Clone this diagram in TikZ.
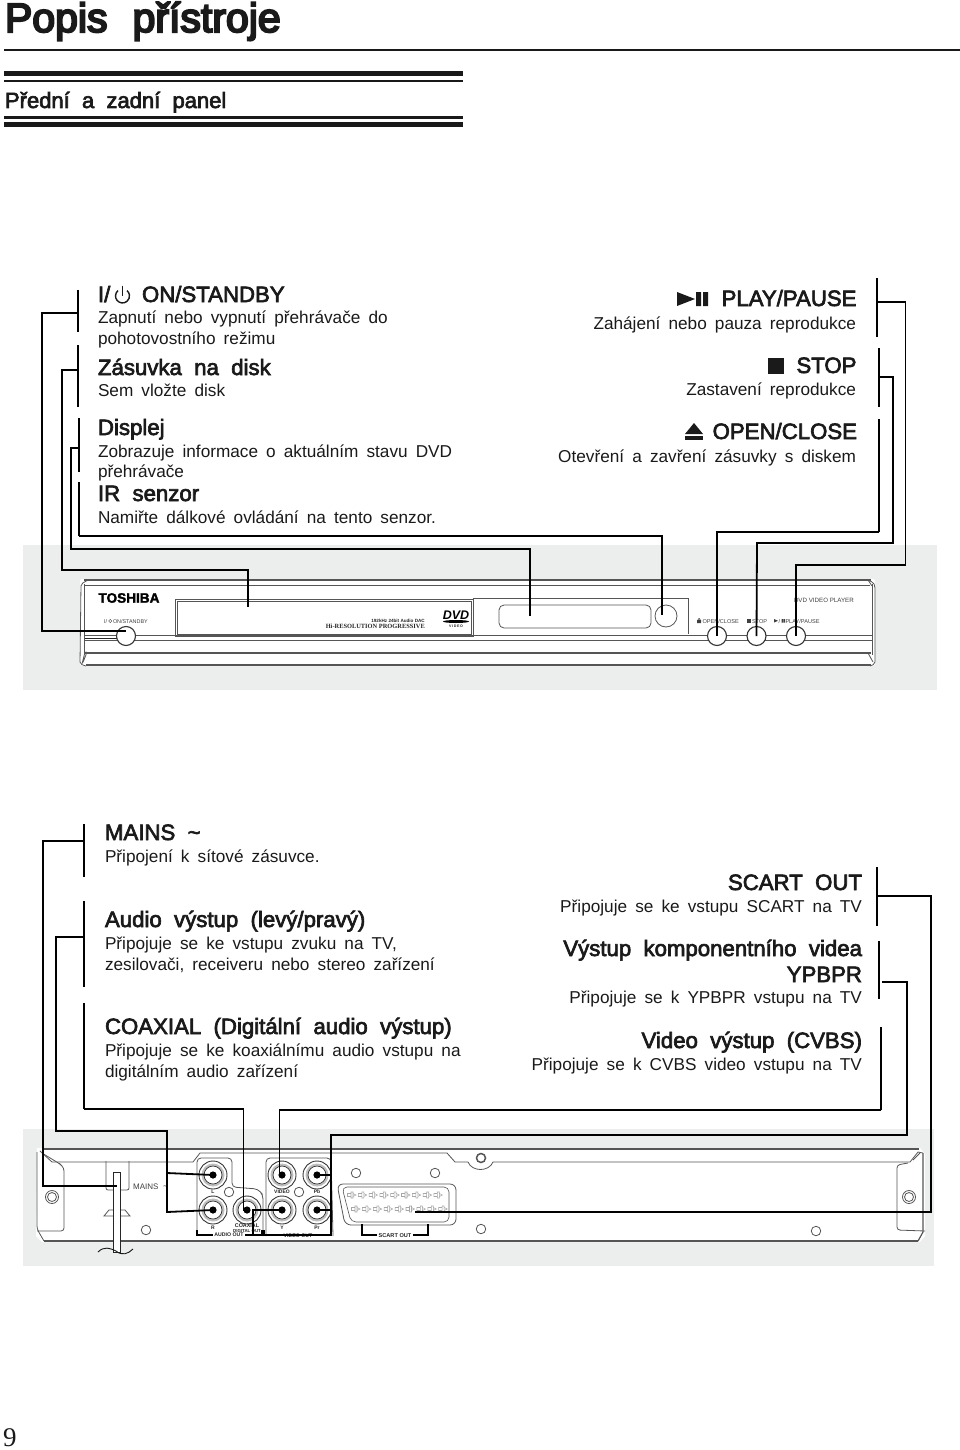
\documentclass[tikz,border=0pt]{standalone}
\usepackage{fontspec}
\setmainfont{Liberation Sans}[WordSpace=1.7]
\newfontfamily\hdfont{Liberation Sans}[FakeBold=3,WordSpace=2.0]
\newfontfamily\subfont{Liberation Sans}[FakeBold=3,WordSpace=2.0]
\newfontfamily\ttlfont{Liberation Sans}[FakeBold=5,WordSpace=2.2]
\newfontfamily\plainfont{Liberation Sans}
\newfontfamily\logofont{Liberation Sans}[FakeBold=2]
\newfontfamily\numfont{Liberation Serif}
\definecolor{panelbg}{HTML}{ECEEED}
\definecolor{ink}{HTML}{1A1A1A}
\definecolor{devline}{HTML}{555555}
\newcommand\fs[1]{\fontsize{#1}{#1}\selectfont}
\tikzset{
  base/.style={inner sep=0pt,outer sep=0pt,text=ink},
  ttl/.style={base,anchor=base west,font=\ttlfont\fs{41}},
  sub/.style={base,anchor=base west,font=\subfont\fs{22}},
  hl/.style={base,anchor=base west,font=\hdfont\fs{22.2}},
  hr/.style={base,anchor=base east,font=\hdfont\fs{22.2}},
  bl/.style={base,anchor=base west,font=\fs{17.2}},
  br/.style={base,anchor=base east,font=\fs{17.2}},
  tiny/.style={inner sep=0pt,outer sep=0pt,text=black!75,anchor=base west,font=\plainfont\fs{5.6}},
  lab/.style={inner sep=0pt,outer sep=0pt,text=black!85,font=\plainfont\bfseries\fs{5}},
  conn/.style={draw=black,line width=1.8pt,line join=miter},
  brk/.style={draw=black,line width=1.8pt},
  dev/.style={draw=devline,line width=0.8pt},
  devthick/.style={draw=devline,line width=1.7pt},
  hole/.style={circle,draw=devline,fill=white,line width=0.8pt,inner sep=0pt,minimum size=9.5pt},
  btn/.style={circle,draw=black!80,fill=white,line width=1.1pt,inner sep=0pt,minimum size=19pt},
  jack/.style={circle,draw=black!80,fill=white,line width=0.9pt,inner sep=0pt,minimum size=28pt},
}
\newcommand\rcajack[3]{%
  \node[jack] (#1) at (#2,#3) {};
  \fill[black!25,even odd rule] (#2,#3) circle[radius=11.5pt] (#2,#3) circle[radius=9pt];
  \draw[black!80,line width=0.7pt] (#2,#3) circle[radius=9pt];
  \fill[black] (#2,#3) circle[radius=3.6pt];
}
\newcommand\scartpin[2]{%
  \draw[black!35,line width=0.55pt] (#1-1,#2-3) rectangle (#1+1,#2+3)
    (#1-1,#2-1.5) -- (#1-4.5,#2-1.5) -- (#1-4.5,#2+1.5) -- (#1-1,#2+1.5)
    (#1+1,#2-1.5) -- (#1+4,#2) -- (#1+1,#2+1.5);
}
\begin{document}
\begin{tikzpicture}[x=1pt,y=-1pt]
\useasboundingbox (0,0) rectangle (960,1450);
\fill[white] (0,0) rectangle (960,1450);

% header
\node[ttl] (title) at (5,32) {Popis přístroje};
\draw[black!90,line width=2.4pt] (4,50) -- (960,50);
\draw[black!90,line width=5pt] (4,73.5) -- (463,73.5);
\draw[black!90,line width=2.4pt] (4,81) -- (463,81);
\node[sub] (subtitle) at (5,108) {Přední a zadní panel};
\draw[black!90,line width=2.4pt] (4,117.5) -- (463,117.5);
\draw[black!90,line width=5pt] (4,125) -- (463,125);

% top-left texts
\node[hl] (t1) at (98,302) {I/};
\draw[ink,line width=1.4pt] (118,290.6) arc[start angle=130,end angle=410,radius=7pt];
\draw[ink,line width=1.6pt] (122.5,285.5) -- (122.5,296);
\node[hl] (t1b) at (142,302) {ON/STANDBY};
\node[bl] at (98,323) {Zapnutí nebo vypnutí přehrávače do};
\node[bl] at (98,344) {pohotovostního režimu};
\node[hl] at (98,375) {Zásuvka na disk};
\node[bl] at (98,396) {Sem vložte disk};
\node[hl] at (98,435) {Displej};
\node[bl] at (98,457) {Zobrazuje informace o aktuálním stavu DVD};
\node[bl] at (98,477) {přehrávače};
\node[hl] at (98,501) {IR senzor};
\node[bl] at (98,523) {Namiřte dálkové ovládání na tento senzor.};

% top-right texts
\fill[ink] (677,292) -- (695,299) -- (677,306) -- cycle;
\fill[ink] (696,292) rectangle (701,306) (703,292) rectangle (708,306);
\node[hr] at (856.5,306) {PLAY/PAUSE};
\node[br] at (856,329) {Zahájení nebo pauza reprodukce};
\fill[ink] (768,358) rectangle (784,374);
\node[hr] at (856.5,373) {STOP};
\node[br] at (856,395) {Zastavení reprodukce};
\fill[ink] (685,434) -- (694,423) -- (703,434) -- cycle;
\fill[ink] (685,436) rectangle (703,440);
\node[hr] at (857,439) {OPEN/CLOSE};
\node[br] at (856,462) {Otevření a zavření zásuvky s diskem};

% mid-left texts
\node[hl] at (105,840) {MAINS \textasciitilde};
\node[bl] at (105,862) {Připojení k sítové zásuvce.};
\node[hl] at (105,927) {Audio výstup (levý/pravý)};
\node[bl] at (105,949) {Připojuje se ke vstupu zvuku na TV,};
\node[bl] at (105,970) {zesilovači, receiveru nebo stereo zařízení};
\node[hl] at (105,1034) {COAXIAL (Digitální audio výstup)};
\node[bl] at (105,1056) {Připojuje se ke koaxiálnímu audio vstupu na};
\node[bl] at (105,1077) {digitálním audio zařízení};

% mid-right texts
\node[hr] at (862,890) {SCART OUT};
\node[br] at (862,912) {Připojuje se ke vstupu SCART na TV};
\node[hr] at (862,956) {Výstup komponentního videa};
\node[hr] at (862,982) {YPBPR};
\node[br] at (862,1003) {Připojuje se k YPBPR vstupu na TV};
\node[hr] at (862,1048) {Video výstup (CVBS)};
\node[br] at (862,1070) {Připojuje se k CVBS video vstupu na TV};

\node[base,anchor=base west,font=\numfont\fs{27}] (pagenum) at (3,1446) {9};

% ---------- front panel
\fill[panelbg] (23,545) rectangle (936.5,689.5);
\fill[white,rounded corners=2pt] (80,579) rectangle (875,666);
\draw[devthick] (84,580) -- (871,580);
\draw[dev] (85,585) -- (870,585);
\draw[devthick] (86,665) -- (871,665);
\draw[devthick] (84,653) -- (871,653);
\draw[dev] (84,635) -- (872,635);
\draw[dev] (84,640) -- (872,640);
\draw[black!85,line width=0.8pt] (84,638) -- (118,638);
\draw[dev,rounded corners=2pt] (88,580) -- (81,584) -- (80,664) -- (86,666);
\draw[dev] (84,584) -- (84,655);
\draw[dev,rounded corners=1pt] (85,652) -- (82,664) -- (84,660) -- (87,652) -- cycle;
\draw[dev,rounded corners=2pt] (867,580) -- (873,582) -- (875,586) -- (875,664) -- (870,666);
\draw[dev] (872,584) -- (872,655);
\draw[dev] (868,580) -- (872,586);
\draw[dev] (868,653) -- (873,662);
\draw[dev] (175,599) rectangle (473,636.5);
\draw[dev,line width=0.6pt] (177,601) rectangle (471,634.5);
\draw[dev] (473,598) -- (688,598) -- (688,634);
\draw[dev,rounded corners=5pt] (499,605) rectangle (651,628);
\node[circle,draw=devline,line width=0.8pt,inner sep=0pt,minimum size=22pt] (ir) at (666,616) {};
\node[btn] (bpower) at (126,636) {};
\node[btn] (bopen) at (717,636) {};
\node[btn] (bstop) at (756.5,636) {};
\node[btn] (bplay) at (796,636) {};
\node[inner sep=0pt,text=black,font=\logofont\bfseries\fs{13.6}] (tosh) at (129,598) {TOSHIBA};
\node[tiny,font=\plainfont\fs{5.4}] at (104,623) {I/};
\draw[black!75,line width=0.4pt] (110.2,621) circle[radius=1.6pt];
\node[tiny,font=\plainfont\fs{5.4}] at (113,623) {ON/STANDBY};
\node[inner sep=0pt,anchor=base east,text=black!85,font=\plainfont\bfseries\fs{4.6}] at (425,622) {192kHz 24bit Audio DAC};
\node[inner sep=0pt,anchor=base east,text=black!85,font=\numfont\bfseries\fs{6.4}] at (425,628) {Hi-RESOLUTION PROGRESSIVE};
\node[inner sep=0pt,text=black,font=\plainfont\bfseries\itshape\fs{12.5}] (dvd) at (456,615.5) {DVD};
\fill[black] (456,621.5) ellipse[x radius=13pt,y radius=1.5pt];
\node[inner sep=0pt,text=black!85,font=\plainfont\bfseries\fs{3.6}] at (456,626.5) {V\,I\,D\,E\,O};
\node[tiny,font=\plainfont\fs{6.2}] at (794,602.5) {DVD VIDEO PLAYER};
\fill[black!75] (697,623) rectangle (701,620) (697.5,619.5) -- (699,618) -- (700.5,619.5) -- cycle;
\node[tiny] at (702.5,623) {OPEN/CLOSE};
\fill[black!75] (747,619) rectangle (750.5,622.5);
\node[tiny] at (752,623) {STOP};
\fill[black!75] (774,619) -- (778,620.8) -- (774,622.5) -- cycle;
\node[tiny] at (778.5,623) {/};
\fill[black!75] (781.5,619) rectangle (783,622.5) (783.7,619) rectangle (785.2,622.5);
\node[tiny] at (785.5,623) {PLAY/PAUSE};

% ---------- rear panel
\fill[panelbg] (23,1129) rectangle (934,1266);
\fill[white] (37,1148) -- (920,1148) -- (925,1154) -- (925,1236) -- (920,1242) -- (42,1242) -- (36,1236) -- cycle;
\draw[devthick] (42,1149) -- (919,1149);
\draw[devthick] (44,1241) -- (918,1241);
\draw[dev] (40,1151) -- (52,1162) -- (193,1162) -- (200,1153) -- (447,1153) -- (455,1162) -- (468,1162);
\draw[dev] (468,1162) .. controls (472,1172) and (489,1172) .. (493,1162) -- (910,1162) -- (918,1152) -- (923,1153);
\draw[dev] (913,1160) -- (920,1153);
\draw[dev,rounded corners=3pt] (37,1152) -- (37,1229) -- (44,1241);
\draw[dev,rounded corners=3pt] (42,1153) -- (60,1164) -- (64,1168) -- (64,1231) -- (37,1231);
\draw[dev,rounded corners=3pt] (908,1163) -- (897,1165) -- (897,1230) -- (925,1231);
\draw[devthick,line width=1.2pt] (923,1153) -- (923,1232) -- (918,1241);
\node[hole,minimum size=13pt] (screwL) at (52,1197) {};
\draw[devline,line width=0.8pt] (screwL) circle[radius=4.5pt];
\node[hole,minimum size=13pt] (screwR) at (909,1197) {};
\draw[devline,line width=0.8pt] (screwR) circle[radius=4.5pt];
\node[hole,minimum size=9pt,line width=1.5pt] (screwM) at (481,1158) {};
\node[hole] (h1) at (146,1230) {};
\node[hole] (h2) at (481,1229) {};
\node[hole] (h3) at (816,1231) {};
\node[hole] (h4) at (229,1192) {};
\node[hole] (h5) at (299,1192) {};
\node[hole] (h6) at (356,1173) {};
\node[hole] (h7) at (435,1173) {};
% mains cord
\draw[dev,rounded corners=2pt] (106,1161) -- (106,1190) -- (129,1190) -- (129,1161);
\draw[dev] (104,1216) -- (109,1210) -- (125,1210) -- (130,1216) -- cycle;
\draw[black!85,line width=0.8pt,fill=white] (113,1172) rectangle (120,1252);
\draw[black!90,line width=0.9pt] (98,1252) .. controls (104,1246) and (110,1248) .. (116,1251) .. controls (122,1256) and (128,1254) .. (133,1249);
\node[inner sep=0pt,anchor=base west,text=black!75,font=\plainfont\fs{8}] (mainsl) at (133,1189) {MAINS};
\node[inner sep=0pt,anchor=base west,text=black!75,font=\plainfont\fs{9}] at (163,1189) {\textasciitilde};
% jack bays
\draw[dev,rounded corners=4pt] (197,1236) -- (197,1158) -- (232,1158) -- (232,1187) -- (258,1189) -- (263,1195) -- (263,1236);
\draw[dev,rounded corners=4pt] (266,1236) -- (266,1158) -- (331,1158) -- (333,1236);
\rcajack{jackL}{213}{1175}
\rcajack{jackR}{213}{1210}
\rcajack{jackC}{247}{1210}
\rcajack{jackV}{282}{1175}
\rcajack{jackPb}{317}{1175}
\rcajack{jackY}{282}{1210}
\rcajack{jackPr}{317}{1210}
\node[lab] at (213,1192) {L};
\node[lab] at (213,1228) {R};
\node[lab] at (282,1192) {VIDEO};
\node[lab] at (317,1192) {Pb};
\node[lab] at (282,1228) {Y};
\node[lab] at (317,1228) {Pr};
\node[lab,font=\plainfont\bfseries\fs{5.4}] at (247,1226) {COAXIAL};
\node[lab,font=\plainfont\bfseries\fs{4.4}] at (247,1231) {DIGITAL OUT};
\draw[black,line width=1.3pt] (197,1230) -- (197,1235) -- (262,1235) -- (262,1230);
\draw[black,line width=1.3pt] (264,1230) -- (264,1235) -- (331,1235);
\node[lab,fill=white,inner xsep=1pt,font=\plainfont\bfseries\fs{5.2}] at (229,1235) {AUDIO OUT};
\node[lab,fill=white,inner xsep=1pt,font=\plainfont\bfseries\fs{5.2}] at (298,1236) {VIDEO OUT};
% scart
\draw[dev,rounded corners=6pt] (337,1184) -- (456,1184) -- (456,1225) -- (345,1225) -- cycle;
\draw[dev,line width=0.6pt,rounded corners=5pt] (342,1187) -- (449,1187) -- (449,1222) -- (351,1222) -- cycle;
\foreach \k in {0,...,8} {\scartpin{352+10.8*\k}{1195}}
\foreach \k in {0,...,8} {\scartpin{356+10.9*\k}{1209}}
\coordinate (scartend) at (415,1212);
\draw[black,line width=1.3pt] (362,1224) -- (362,1235) -- (428,1235) -- (428,1224);
\node[lab,fill=white,inner xsep=2pt,font=\plainfont\bfseries\fs{5.6}] at (395,1236) {SCART OUT};
\coordinate (cordend) at (117,1186);

% ---------- connectors
\coordinate (bA) at (78,313);
\coordinate (bB) at (78,370);
\coordinate (bC) at (79,448);
\coordinate (bD) at (79,536);
\draw[brk] (78,290) -- (78,332);
\draw[brk] (78,345) -- (78,407);
\draw[brk] (79,418) -- (79,472);
\draw[brk] (79,482) -- (bD);
\coordinate (dispend) at (248,607);
\coordinate (diskend) at (530,616);
\draw[conn] (bA) -- (42,313) -- (42,631) -- (bpower.center |- 0,631);
\draw[conn] (bB) -- (62,370) -- (62,570) -- (248,570) -- (dispend);
\draw[conn] (bC) -- (71,448) -- (71,549) -- (530,549) -- (diskend);
\draw[conn] (bD) -- (662,536) -- (662,615);

\coordinate (bP) at (877,302);
\coordinate (bS) at (879,377);
\coordinate (bO) at (879,532);
\draw[brk] (877,278) -- (877,337);
\draw[brk] (879,348) -- (879,407);
\draw[brk] (879,419) -- (bO);
\draw[conn] (bP) -- (905.5,302) -- (905.5,565) -- (796,565) -- (bplay.center);
\draw[conn] (bS) -- (893,377) -- (893,543) -- (757,543) -- (bstop.center);
\draw[conn] (bO) -- (717,532) -- (bopen.center);

\coordinate (bM) at (84,841);
\coordinate (bU) at (84,937);
\coordinate (bX) at (84,1109);
\draw[brk] (84,824) -- (84,877);
\draw[brk] (84,901) -- (84,987);
\draw[brk] (84,1003) -- (bX);
\draw[conn] (bM) -- (43,841) -- (43,1186) -- (cordend);
\draw[conn] (bU) -- (56,937) -- (56,1131) -- (167,1131) -- (167,1212) -- (jackR.center);
\draw[conn] (167,1173) -- (jackL.center);
\draw[conn] (bX) -- (243.5,1109) -- (243.5,1210) -- (jackC.center);

\coordinate (bT) at (877,896);
\coordinate (bK) at (882,982);
\coordinate (bV) at (881,1110);
\draw[brk] (877,867) -- (877,926);
\draw[brk] (879,941) -- (879,999);
\draw[brk] (881,1027) -- (bV);
\draw[conn] (bT) -- (931,896) -- (931,1212) -- (scartend);
\draw[conn] (bK) -- (907,982) -- (907,1135) -- (331,1135) -- (331,1235) -- (253,1235) -- (253,1210) -- (jackY.center);
\draw[conn] (331,1175) -- (jackPb.center);
\draw[conn] (331,1210) -- (jackPr.center);
\draw[conn] (bV) -- (279.5,1110) -- (279.5,1175);
\end{tikzpicture}
\end{document}
